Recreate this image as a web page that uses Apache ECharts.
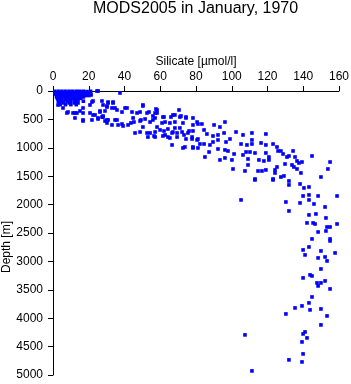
<!DOCTYPE html>
<html>
<head>
<meta charset="utf-8">
<script src="https://cdn.jsdelivr.net/npm/echarts@6/dist/echarts.min.js"></script>
<style>
html, body { margin: 0; padding: 0; background: #fff; }
#chart { width: 351px; height: 384px; }
</style>
</head>
<body>
<div id="chart"></div>
<script>
// silicate [umol/l], depth [m]
const surfacePoints = [
    [1,5],[3,5],[5,5],[7,5],[9,5],[11,5],[13,5],[15,5],[17,5],[19,10],[21,5],[24.6,0],[37.5,35],[25.2,0],[16.8,18],
    [1,30],[2.5,30],[4,30],[6,30],[8,30],[10,30],[12,30],[14,30],[16,30],[18,30],[20,30],[21,40],
    [1.5,55],[3,55],[5,55],[7,55],[9,55],[11,55],[13,55],[15,55],[17,55],[19,55],[21.3,70],
    [2,80],[4,80],[6,80],[8,80],[10,80],[12,80],[14,80],[16,80],[18,80],[20,80],
    [2,105],[4,105],[6,105],[8,105],[10,105],[12,105],[14,105],[17,105],
    [2.5,130],[4.5,130],[7,130],[9,130],[11,130],[13,130],[15.5,130],
    [3,155],[5,155],[7,155],[9,155],[12,155],[14,155],
    [3,180],[5,180],[8,180],[10,180],[13,180],[17,180],
    [3.5,210],[6,210],[9,210],[12,210],[14,210],
    [4,240],[7,240],[10,240],[13,240],[2.8,246],
    [5.6,299]
];

const midPoints = [
    [8.4,370],[12.3,387],[15.1,352],[16.8,299],[16.8,510],[21.8,510],[22.4,422],[25.2,475],[28,440],[29.1,528],
    [26.3,352],[29.1,352],[20.7,246],[22.4,176],[27.4,176],[30.8,211],[30.2,264],
    [21.8,194],[30.8,194],[33.6,211],[50.3,246],[57.6,317],
    [28,246],[30.2,282],[33,299],[35.8,334],[38.6,370],[41.4,299],[44.2,370],[47,387],[48.7,370],[52.6,387],
    [57.1,387],[61.5,458],[66,458],[70.5,334],[67.1,422],[71,458],[74.4,475],[78.3,475],
    [20.7,387],[23.5,422],[26.3,370],[16.8,387],[13.4,387],[11.2,387],[7.8,387],
    [16.8,528],[12.3,475],[25.2,493],[27.4,458],
    [30.2,510],[35.8,510],[36.4,598],[38.6,581],[42,598],[43.6,563],[45.3,546],[48.7,528],[51.5,493],[54.3,546],[57.1,475],
    [33,598],[30.8,510],
    [45.9,739],[48.7,722],[52.6,739],[54.3,739],[57.1,722],[58.2,634],[61,563],[62.7,546],[65.4,563],[68.2,546],
    [72.7,563],[78.3,598],[80.6,546],
    [53.1,810],[57.1,810],[61.5,792],[66.6,739],[69.4,810],[73.3,774],[75.5,739],[77.8,810],[80.6,862],
    [66.6,950],[73.8,986],[78.3,986],
    [33.6,194],[34.7,299],[40.3,299],[44.8,475],[49.2,510],[50.3,264],[53.7,370],[55.9,440],[58.2,334],[55.9,510],
    [34.7,510],[30.2,563],[28,458],[39.2,616],[50.3,634],[59.9,686],[62.7,774],[65.4,827],[68.2,651],[71,651],[69.4,739],
    [62.1,704],[64.3,669],[67.1,722],[72.2,722],[76.1,704],[78.3,704],[56.5,792],[64.3,810],[74.4,845],[77.8,845],
    [72.7,1003],[78.3,1003],[71.6,440],[74.4,458],[62.1,458],[68.2,422],[58.2,387]
];

const lowerPoints = [
    [81.1,581],[83.3,581],[90.1,598],[96.2,546],
    [84.5,686],[93.4,634],
    [81.1,845],[86.1,757],[89.5,792],[92.3,774],[95.7,739],
    [82.2,933],[84.5,933],[87.8,950],[89.5,898],[92.3,862],[96.8,898],[99,845],[102.4,722],[106.3,774],[111.3,739],
    [81.1,1003],[87.3,1074],[92.3,1021],[96.2,1038],[97.9,1056],[101.3,1109],[105.2,933],[108.5,950],[111.3,862],
    [111.3,933],[116.4,915],[119.1,757],[119.1,950],
    [85,1162],[93.4,1214],[96.2,1179],[100.1,1214],[100.7,1373],[106.3,1126],[109.1,1197],[108,1074],[110.2,1074],
    [113,1091],[115.2,1214],[118,1232],[119.1,1091],[120.8,1162],
    [107.4,1408],[109.1,1302],[114.7,1408],[116.9,1408],[119.1,1390],[120.8,1214],[124.2,1390],[124.2,1443],[125.3,1338],
    [123.1,933],[125.3,986],[125.9,1056],[127.5,1056],[128.7,1109],[130.9,1162],[132,1144],[134.3,1056],[135.4,1162],
    [136.5,1232],[137.6,1267],[139.3,1250],[144.9,1144],[155,1250],[153.8,1373],[149.9,1514],
    [113,1549],[123.1,1549],[127.5,1514],[129.2,1496],[132,1584],[132,1654],[138.2,1637],[140.4,1707],[143.2,1690],
    [133.7,1302],[134.8,1338],[136.5,1373],[138.7,1443],[129.8,1285],[113,1566],[123.1,1566]
];

const deepPoints = [
    [105.2,1918],[130.3,1954],[138.2,1971],[139.9,1848],[143.2,1830],[148.3,1848],[158.9,1848],[143.2,1918],[146,1989],
    [152.2,2042],[132,2112],[143.2,2182],[147.1,2165],[152.7,2235],[142.1,2323],[145.5,2323],[146.6,2341],[153.3,2394],
    [155,2394],[158.9,2341],[152.7,2464],[148.3,2482],[144.9,2605],[155,2605],[155,2640],[143.2,2746],[139.9,2798],
    [149.9,2816],[157.8,2851],[141,2886],[148.3,2939],[152.2,2922],[153.3,2992],[149.9,3133],[143.8,3238],[144.9,3256],
    [139.9,3291],[152.2,3344],[149.9,3379],[147.7,3379],[148.3,3432],[155,3485],[144.9,3626],[143.2,3731],[139.3,3784],
    [135.4,3819],[143.8,3854],[149.9,3837],[130.3,3925],[153.3,3960],[149.9,4118],[141,4242],[139.9,4277],[142.1,4347],
    [107.4,4294],[139.3,4418],[139.9,4629],[132,4734],[139.3,4770],[111.3,4928]
];

const chart = echarts.init(document.getElementById('chart'));
const font = 'Liberation Sans, Arial, sans-serif';

chart.setOption({
    animation: false,
    title: {
        text: 'MODS2005 in January, 1970',
        left: 93,
        top: 1,
        padding: 0,
        textStyle: { fontFamily: font, fontSize: 16, fontWeight: 'normal', color: '#000' }
    },
    grid: { left: 53, top: 91, right: 12, bottom: 9, containLabel: false, outerBoundsMode: 'none' },
    xAxis: {
        type: 'value',
        position: 'top',
        min: 0,
        max: 160,
        interval: 20,
        name: 'Silicate [µmol/l]',
        nameLocation: 'middle',
        nameGap: 23,
        nameMoveOverlap: false,
        nameTextStyle: { fontFamily: font, fontSize: 12, color: '#000' },
        axisLine: { show: true, lineStyle: { color: '#000', width: 1 } },
        axisTick: { show: true, length: 5, lineStyle: { color: '#000' } },
        axisLabel: { fontFamily: font, fontSize: 12, color: '#000', margin: 8 },
        splitLine: { show: false }
    },
    yAxis: {
        type: 'value',
        inverse: true,
        min: 0,
        max: 5000,
        interval: 500,
        name: 'Depth [m]',
        nameLocation: 'middle',
        nameGap: 40,
        nameMoveOverlap: false,
        nameTextStyle: { fontFamily: font, fontSize: 12, color: '#000', padding: [0, 28, 0, 0] },
        axisLine: { show: true, lineStyle: { color: '#000', width: 1 } },
        axisTick: { show: true, length: 5, lineStyle: { color: '#000' } },
        axisLabel: {
            fontFamily: font, fontSize: 12, color: '#000', margin: 10,
            formatter: function (v) { return String(v); }
        },
        splitLine: { show: false }
    },
    series: [{
        type: 'scatter',
        symbol: 'rect',
        symbolSize: 3.6,
        itemStyle: { color: '#0000ff', opacity: 1 },
        data: surfacePoints.concat(midPoints, lowerPoints, deepPoints)
    }]
});
</script>
</body>
</html>
